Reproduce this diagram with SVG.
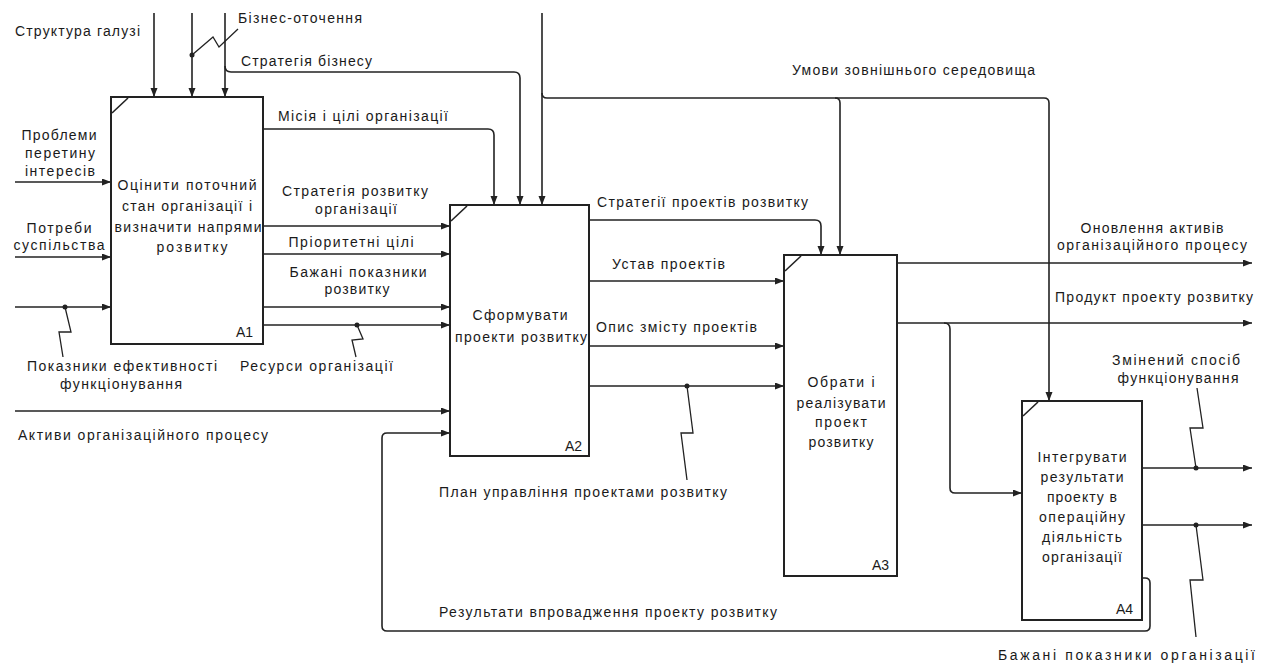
<svg xmlns="http://www.w3.org/2000/svg" width="1264" height="663" viewBox="0 0 1264 663">
<style>
.bg{fill:#fff}
.box{fill:#fff;stroke:#222;stroke-width:2}
.mk{stroke:#222;stroke-width:1.6;fill:none}
.ln{stroke:#222;stroke-width:1.6;fill:none}
.sq{stroke:#222;stroke-width:1.3;fill:none}
.arr{stroke:#222;stroke-width:1.6;fill:none;marker-end:url(#ah)}
.dot{fill:#222}
text{font-family:"Liberation Sans",Arial,sans-serif;font-size:14px;fill:#1a1a1a}
.c{text-anchor:middle}
.id{font-size:14px}
</style>
<defs>
<marker id="ah" markerWidth="10" markerHeight="8" refX="9" refY="3.5" orient="auto" markerUnits="userSpaceOnUse">
<path d="M0,0 L9,3.5 L0,7 z" fill="#222"/>
</marker>
</defs>
<rect class="bg" x="0" y="0" width="1264" height="663"/>

<g id="connectors">
<path class="arr" d="M154,13 V97"/>
<path class="arr" d="M192,13 V97"/>
<path class="arr" d="M225,13 V97"/>
<circle class="dot" cx="192" cy="55" r="2.5"/>
<path class="sq" d="M192,55 L213,37 L219,47 L238,29"/>
<path class="arr" d="M225,66 Q225,72 231,72 H514 Q520,72 520,78 V205"/>
<path class="arr" d="M263,129 H488 Q494,129 494,135 V205"/>
<path class="arr" d="M542,13 V205"/>
<path class="ln" d="M542,93 Q542,98 547,98 H1044 Q1049,98 1049,103 V401" marker-end="url(#ah)"/>
<path class="arr" d="M835,98 Q840,98 840,103 V255"/>
<path class="arr" d="M589,220 H815 Q821,220 821,226 V255"/>
<path class="arr" d="M15,182 H111"/>
<path class="arr" d="M15,257 H111"/>
<path class="arr" d="M15,307 H111"/>
<circle class="dot" cx="65" cy="307" r="2.5"/>
<path class="sq" d="M65,307 L71,332 L59,332 L63,357"/>
<path class="arr" d="M263,226 H450"/>
<path class="arr" d="M263,254 H450"/>
<path class="arr" d="M263,307 H450"/>
<path class="arr" d="M263,325 H450"/>
<circle class="dot" cx="357" cy="325" r="2.5"/>
<path class="sq" d="M357,325 L363,339 L352,340 L356,357"/>
<path class="arr" d="M15,411 H450"/>
<path class="arr" d="M1142,578 H1145 Q1150,578 1150,583 V626 Q1150,631 1145,631 H387 Q382,631 382,626 V438 Q382,433 387,433 H450"/>
<path class="arr" d="M589,281 H784"/>
<path class="arr" d="M589,346 H784"/>
<path class="arr" d="M589,386 H784"/>
<circle class="dot" cx="687" cy="386" r="2.5"/>
<path class="sq" d="M687,386 L693,433 L681,433 L687,480"/>
<path class="arr" d="M897,263 H1252"/>
<path class="arr" d="M897,323 H1252"/>
<path class="arr" d="M944,323 Q950,323 950,329 V488 Q950,493 955,493 H1022"/>
<path class="arr" d="M1142,468 H1252"/>
<circle class="dot" cx="1196" cy="468" r="2.5"/>
<path class="sq" d="M1196,468 L1190,428 L1203,428 L1197,388"/>
<path class="arr" d="M1142,525 H1252"/>
<circle class="dot" cx="1196" cy="525" r="2.5"/>
<path class="sq" d="M1196,525 L1203,580 L1190,580 L1196,637"/>
</g>

<g id="A1">
<rect class="box" x="111" y="97" width="152" height="247"/>
<path class="mk" d="M112,113 L128,98"/>
<text class="c" x="187" y="190" textLength="139">Оцінити поточний</text>
<text class="c" x="187" y="211" textLength="130">стан організації і</text>
<text class="c" x="188" y="232" textLength="147">визначити напрями</text>
<text class="c" x="192" y="252" textLength="71">розвитку</text>
<text class="id" x="236" y="337">A1</text>
</g>

<g id="A2">
<rect class="box" x="450" y="205" width="139" height="251"/>
<path class="mk" d="M451,221 L467,206"/>
<text class="c" x="520" y="320" textLength="95">Сформувати</text>
<text class="c" x="521" y="342" textLength="132">проекти розвитку</text>
<text class="id" x="565" y="451">A2</text>
</g>

<g id="A3">
<rect class="box" x="784" y="255" width="113" height="321"/>
<path class="mk" d="M785,271 L801,256"/>
<text class="c" x="841" y="387" textLength="67">Обрати і</text>
<text class="c" x="841" y="408" textLength="89">реалізувати</text>
<text class="c" x="841" y="427" textLength="52">проект</text>
<text class="c" x="841" y="447" textLength="65">розвитку</text>
<text class="id" x="872" y="570">A3</text>
</g>

<g id="A4">
<rect class="box" x="1022" y="401" width="120" height="219"/>
<path class="mk" d="M1023,416 L1038,402"/>
<text class="c" x="1082" y="462" textLength="89">Інтегрувати</text>
<text class="c" x="1082" y="482" textLength="83">результати</text>
<text class="c" x="1082" y="502" textLength="70">проекту в</text>
<text class="c" x="1082" y="522" textLength="86">операційну</text>
<text class="c" x="1082" y="542" textLength="80">діяльність</text>
<text class="c" x="1082" y="562" textLength="80">організації</text>
<text class="id" x="1116" y="614">A4</text>
</g>

<g id="labels">
<text x="15" y="36" textLength="125">Структура галузі</text>
<text x="238" y="23" textLength="124">Бізнес-оточення</text>
<text x="241" y="66" textLength="131">Стратегія бізнесу</text>
<text x="278" y="121" textLength="170">Місія і цілі організації</text>
<text class="c" x="59" y="140" textLength="75">Проблеми</text>
<text class="c" x="60" y="158" textLength="70">перетину</text>
<text class="c" x="60" y="176" textLength="70">інтересів</text>
<text class="c" x="59" y="233" textLength="65">Потреби</text>
<text class="c" x="59" y="250" textLength="91">суспільства</text>
<text class="c" x="122" y="371" textLength="190">Показники ефективності</text>
<text class="c" x="121" y="389" textLength="122">функціонування</text>
<text class="c" x="355" y="196" textLength="146">Стратегія розвитку</text>
<text class="c" x="356" y="214" textLength="82">організації</text>
<text class="c" x="351" y="247" textLength="125">Пріоритетні цілі</text>
<text class="c" x="358" y="277" textLength="137">Бажані показники</text>
<text class="c" x="357" y="294" textLength="65">розвитку</text>
<text x="240" y="371" textLength="153">Ресурси організації</text>
<text x="18" y="440" textLength="250">Активи організаційного процесу</text>
<text x="597" y="207" textLength="211">Стратегії проектів розвитку</text>
<text x="792" y="75" textLength="243">Умови зовнішнього середовища</text>
<text x="612" y="269" textLength="113">Устав проектів</text>
<text x="596" y="332" textLength="161">Опис змісту проектів</text>
<text x="439" y="497" textLength="288">План управління проектами розвитку</text>
<text x="439" y="617" textLength="338">Результати впровадження проекту розвитку</text>
<text class="c" x="1152" y="233" textLength="143">Оновлення активів</text>
<text class="c" x="1152" y="250" textLength="190">організаційного процесу</text>
<text x="1055" y="302" textLength="198">Продукт проекту розвитку</text>
<text class="c" x="1176" y="365" textLength="128">Змінений спосіб</text>
<text class="c" x="1178" y="383" textLength="121">функціонування</text>
<text x="998" y="660" textLength="257">Бажані показники організації</text>
</g>
</svg>
